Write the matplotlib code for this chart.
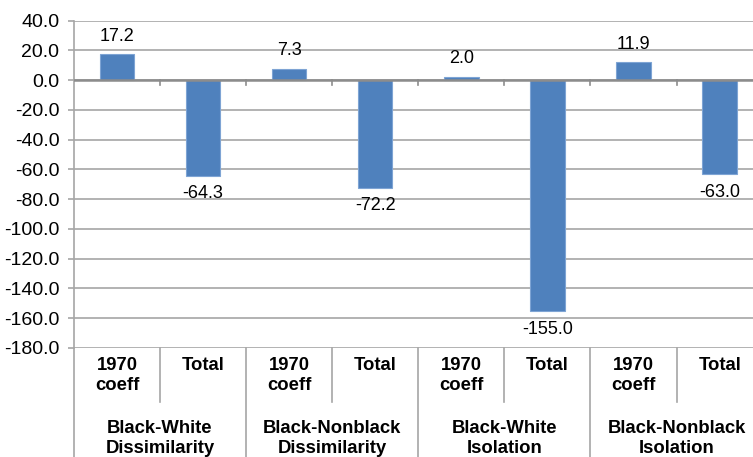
import matplotlib
matplotlib.use("Agg")
import matplotlib.pyplot as plt
from matplotlib.lines import Line2D

plt.rcParams['font.family'] = ['Liberation Sans', 'DejaVu Sans']
plt.rcParams['axes.unicode_minus'] = False

sub_labels = ["1970\ncoeff", "Total", "1970\ncoeff", "Total",
              "1970\ncoeff", "Total", "1970\ncoeff", "Total"]
group_labels = ["Black-White\nDissimilarity", "Black-Nonblack\nDissimilarity",
                "Black-White\nIsolation", "Black-Nonblack\nIsolation"]
values = [17.2, -64.3, 7.3, -72.2, 2.0, -155.0, 11.9, -63.0]
yticks = [40, 20, 0, -20, -40, -60, -80, -100, -120, -140, -160, -180]

W, H = 753, 457
fig = plt.figure(figsize=(W / 100, H / 100), dpi=100)
ax_left, ax_top, ax_bottom, cat_w = 73.9, 20.5, 348.0, 86.1
ax = fig.add_axes([ax_left / W, (H - ax_bottom) / H, 8 * cat_w / W, (ax_bottom - ax_top) / H])
ax_h = ax_bottom - ax_top

grid_c = '#A6A6A6'
bar_c = '#4F81BD'

x = list(range(len(values)))
ax.bar(x, values, width=0.4, color=bar_c, edgecolor='#7EA4D4', linewidth=0.8, zorder=3)

ax.set_xlim(-0.5, 7.5)
ax.set_ylim(-180, 40)
ax.set_yticks(yticks)
ax.set_yticklabels([f"{v:.1f}" for v in yticks], fontsize=14)
ax.yaxis.grid(True, color=grid_c, linewidth=1.2, zorder=0)
ax.set_axisbelow(True)
ax.tick_params(axis='y', length=4.5, width=1.2, color=grid_c, pad=6)
ax.set_xticks([])
for s in ['top', 'right', 'bottom']:
    ax.spines[s].set_visible(False)
ax.spines['left'].set_color(grid_c)
ax.spines['left'].set_linewidth(1.2)

# zero line with tick marks at category boundaries
ax.axhline(0, color='#8C8C8C', linewidth=1.8, zorder=4)
for b in range(1, 8):
    ax.plot([b - 0.5, b - 0.5], [0, -3.5], color='#8C8C8C', linewidth=1.2, zorder=4)

# data labels
for xi, v in zip(x, values):
    if v >= 0:
        ax.annotate(f"{v:.1f}", (xi, v), xytext=(0, 7), textcoords='offset points',
                    ha='center', va='bottom', fontsize=13)
    else:
        ax.annotate(f"{v:.1f}", (xi, v), xytext=(0, -7), textcoords='offset points',
                    ha='center', va='top', fontsize=13,
                    family=['Liberation Sans Narrow', 'Liberation Sans'])

# category axis labels
xt = ax.get_xaxis_transform()
def fy(px):
    return -px / ax_h

for xi, lab in zip(x, sub_labels):
    ax.text(xi, fy(9), lab, transform=xt, ha='center', va='top', fontsize=13.3,
            fontweight='bold', linespacing=1.25, clip_on=False)
for g, lab in enumerate(group_labels):
    ax.text(2 * g + 0.5, fy(72), lab, transform=xt, ha='center', va='top', fontsize=13.3,
            fontweight='bold', linespacing=1.25, clip_on=False)

# separators
for b in range(0, 8, 2):
    ax.add_line(Line2D([b + 0.5, b + 0.5], [0, fy(54)], transform=xt, color=grid_c,
                       linewidth=1.2, clip_on=False))
for b in range(0, 9, 2):
    ax.add_line(Line2D([b - 0.5, b - 0.5], [0, fy(120)], transform=xt, color=grid_c,
                       linewidth=1.2, clip_on=False))

fig.savefig("out.png", dpi=100)
